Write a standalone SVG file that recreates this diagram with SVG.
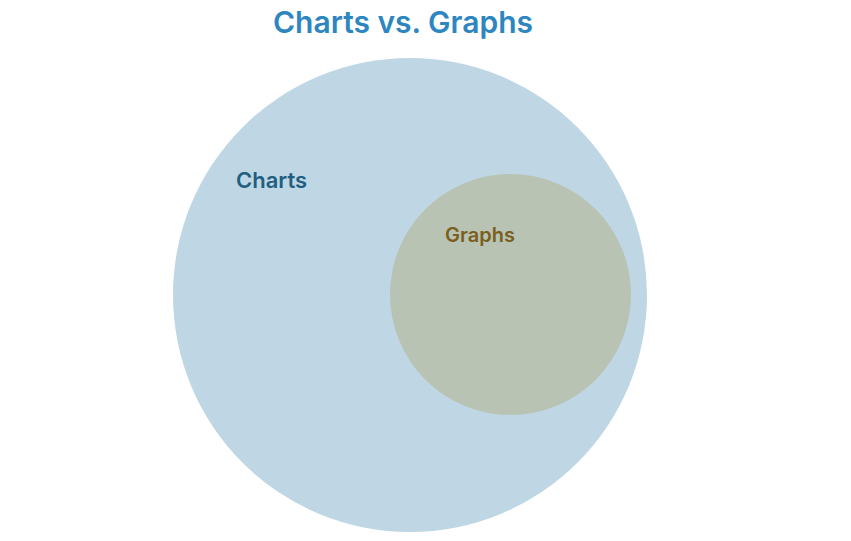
<svg xmlns="http://www.w3.org/2000/svg" width="851" height="541" viewBox="0 0 851 541">
<style>
text{font-family:Inter,"Open Sans","Liberation Sans",sans-serif;font-weight:600}
.title{font-size:30px;fill:#2e86c1;text-anchor:middle}
</style>
<rect width="851" height="541" fill="#ffffff"/>
<text class="title" x="403" y="33">Charts vs. Graphs</text>
<g id="charts">
<circle cx="410" cy="295" r="237" fill="#bfd6e5"/>
<text x="236" y="188" font-size="22" fill="#1f5f80">Charts</text>
</g>
<g id="graphs">
<circle cx="510.5" cy="294.5" r="120.5" fill="#b8c3b3"/>
<text x="445" y="242" font-size="20" fill="#7a5f1f">Graphs</text>
</g>
<g id="connectors"/>
</svg>
